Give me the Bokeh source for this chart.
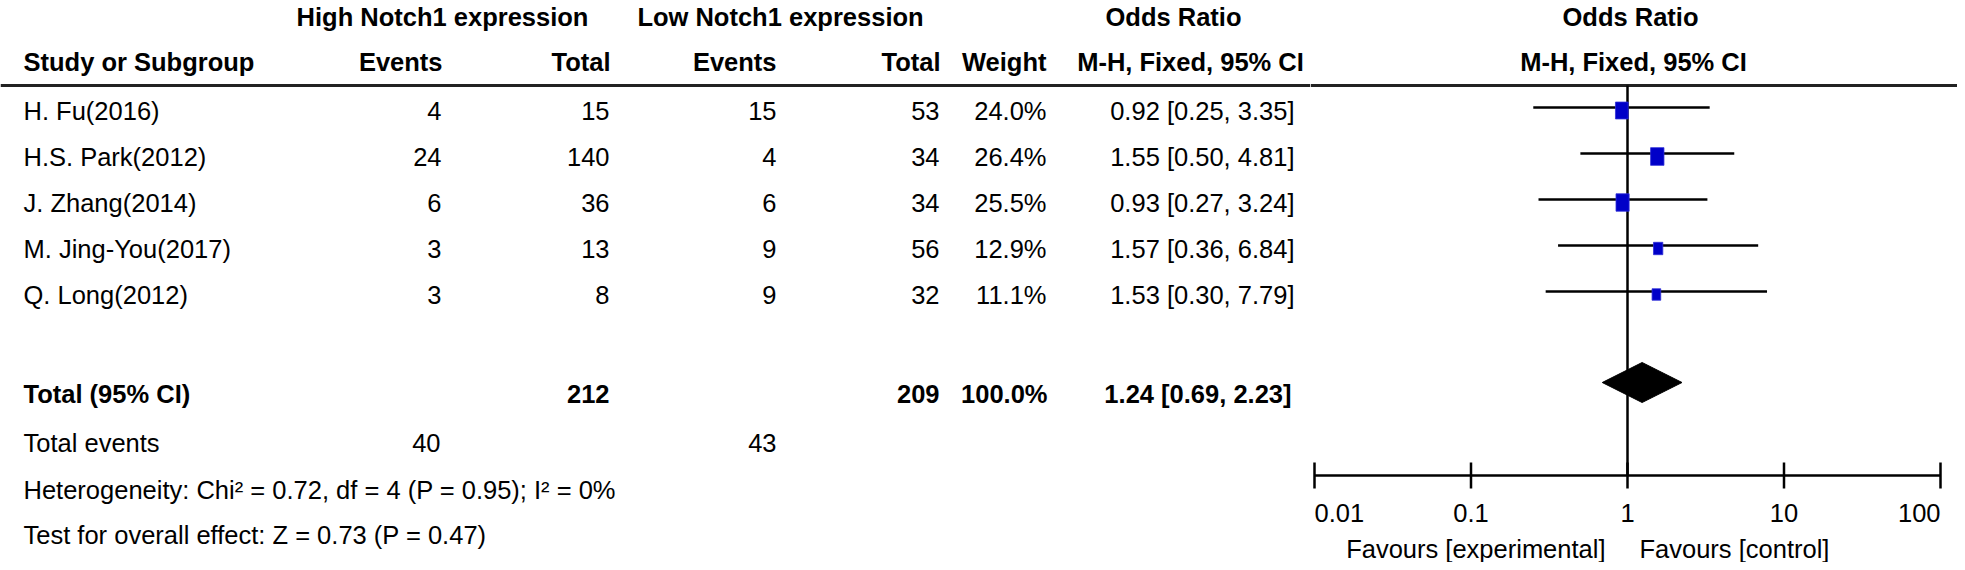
import math
from bokeh.plotting import figure
from bokeh.layouts import row
from bokeh.models import Range1d
from bokeh.core.properties import value
from bokeh.embed import file_html
from bokeh.resources import INLINE

# ---------------- data ----------------
studies = ["H. Fu(2016)", "H.S. Park(2012)", "J. Zhang(2014)", "M. Jing-You(2017)", "Q. Long(2012)"]
high_events = [4, 24, 6, 3, 3]
high_total = [15, 140, 36, 13, 8]
low_events = [15, 4, 6, 9, 9]
low_total = [53, 34, 34, 56, 32]
weights = [24.0, 26.4, 25.5, 12.9, 11.1]
odds_ratio = [0.92, 1.55, 0.93, 1.57, 1.53]
ci_low = [0.25, 0.50, 0.27, 0.36, 0.30]
ci_high = [3.35, 4.81, 3.24, 6.84, 7.79]

total_label = "Total (95% CI)"
total_high = 212
total_low = 209
total_weight = 100.0
total_or = 1.24
total_lo = 0.69
total_hi = 2.23
events_label = "Total events"
events_high = 40
events_low = 43
heterogeneity = "Heterogeneity: Chi\u00b2 = 0.72, df = 4 (P = 0.95); I\u00b2 = 0%"
overall = "Test for overall effect: Z = 0.73 (P = 0.47)"

axis_ticks = [0.01, 0.1, 1, 10, 100]
axis_tick_labels = ["0.01", "0.1", "1", "10", "100"]
favours_left = "Favours [experimental]"
favours_right = "Favours [control]"

group_headers = ["High Notch1 expression", "Low Notch1 expression"]
col_headers = ["Events", "Total", "Events", "Total", "Weight"]
or_header1 = "Odds Ratio"
or_header2 = "M-H, Fixed, 95% CI"
study_header = "Study or Subgroup"

# ---------------- layout / style ----------------
FONT = "Liberation Sans"
FS = "25.5px"
ROW_Y = [110, 156, 202, 248, 294]
TOTAL_Y = 393
EVENTS_Y = 442
HET_Y = 489
TEST_Y = 534
H1_Y = 16
H2_Y = 61
LINE_Y = 85
AXIS_Y = 475

X_LABEL = 23
X_HE = 441
X_HT = 609
X_LE = 776
X_LT = 939
X_W = 1046
X_OR = 1294

W1 = 1310
W2 = 647
H = 562


def txt(p, x, y, texts, align="left", bold=False, **kw):
    p.text(x=x, y=y, text=texts, text_align=align, text_baseline="middle",
           text_font=value(FONT), text_font_size=FS,
           text_font_style="bold" if bold else "normal", text_color="black", **kw)


def bare(p):
    p.grid.visible = False
    p.outline_line_color = None
    p.background_fill_color = "white"
    p.border_fill_color = "white"
    p.min_border = 0


# ---------------- table figure ----------------
p1 = figure(width=W1, height=H, x_range=Range1d(0, W1), y_range=Range1d(H, 0),
            output_backend="svg", toolbar_location=None,
            x_axis_location=None, y_axis_location=None)
bare(p1)

n = len(studies)
txt(p1, [442, 780], [H1_Y, H1_Y], group_headers, "center", bold=True)
txt(p1, [1173], [H1_Y], [or_header1], "center", bold=True)
txt(p1, [X_LABEL], [H2_Y], [study_header], "left", bold=True)
txt(p1, [X_HE + 1, X_HT + 1, X_LE, X_LT + 1, X_W], [H2_Y] * 5, col_headers, "right", bold=True)
txt(p1, [1190], [H2_Y], [or_header2], "center", bold=True)
p1.segment(x0=[0], y0=[LINE_Y], x1=[W1], y1=[LINE_Y], line_width=3, line_color="#222222")

txt(p1, [X_LABEL] * n, ROW_Y, studies, "left")
txt(p1, [X_HE] * n, ROW_Y, [str(v) for v in high_events], "right")
txt(p1, [X_HT] * n, ROW_Y, [str(v) for v in high_total], "right")
txt(p1, [X_LE] * n, ROW_Y, [str(v) for v in low_events], "right")
txt(p1, [X_LT] * n, ROW_Y, [str(v) for v in low_total], "right")
txt(p1, [X_W] * n, ROW_Y, [f"{w:.1f}%" for w in weights], "right")
txt(p1, [X_OR] * n, ROW_Y,
    [f"{o:.2f} [{l:.2f}, {h:.2f}]" for o, l, h in zip(odds_ratio, ci_low, ci_high)], "right")

txt(p1, [X_LABEL], [TOTAL_Y], [total_label], "left", bold=True)
txt(p1, [X_HT, X_LT, X_W + 1], [TOTAL_Y] * 3,
    [str(total_high), str(total_low), f"{total_weight:.1f}%"], "right", bold=True)
txt(p1, [X_OR - 3], [TOTAL_Y], [f"{total_or:.2f} [{total_lo:.2f}, {total_hi:.2f}]"], "right", bold=True)

txt(p1, [X_LABEL], [EVENTS_Y], [events_label], "left")
txt(p1, [X_HE - 1, X_LE], [EVENTS_Y] * 2, [str(events_high), str(events_low)], "right")
txt(p1, [X_LABEL], [HET_Y], [heterogeneity], "left")
txt(p1, [X_LABEL], [TEST_Y], [overall], "left")

# ---------------- forest figure ----------------
PX_PER_DECADE = 156.5
L0 = -(1627 - W1) / PX_PER_DECADE
L1 = L0 + W2 / PX_PER_DECADE
p2 = figure(width=W2, height=H, x_axis_type="log",
            x_range=Range1d(10 ** L0, 10 ** L1), y_range=Range1d(H, 0),
            output_backend="svg", toolbar_location=None,
            x_axis_location=None, y_axis_location=None)
bare(p2)

xr0, xr1 = 10 ** L0, 10 ** L1
p2.segment(x0=[xr0], y0=[LINE_Y], x1=[xr1], y1=[LINE_Y], line_width=3, line_color="#222222")
txt(p2, [1], [H1_Y], [or_header1], "center", bold=True, x_offset=3)
txt(p2, [1], [H2_Y], [or_header2], "center", bold=True, x_offset=6)

# line of no effect
p2.segment(x0=[1], y0=[LINE_Y], x1=[1], y1=[AXIS_Y], line_width=2.5, line_color="black")

# confidence intervals
ci_y = [y - 3 for y in ROW_Y]
p2.segment(x0=ci_low, y0=ci_y, x1=ci_high, y1=ci_y, line_width=2.5, line_color="black")
# weight boxes (area proportional to weight)
p2.rect(x=odds_ratio, y=ROW_Y,
        width=[2.6 * math.sqrt(w) for w in weights],
        height=[3.45 * math.sqrt(w) for w in weights],
        width_units="screen", height_units="screen",
        fill_color="#0000C8", line_color="#3030D8", line_width=0.8)

# pooled diamond
DY = 382
p2.patch(x=[total_lo, total_or, total_hi, total_or], y=[DY, DY - 20, DY, DY + 20],
         fill_color="black", line_color="black", line_width=1)

# axis
p2.segment(x0=[axis_ticks[0]], y0=[AXIS_Y], x1=[axis_ticks[-1]], y1=[AXIS_Y],
           line_width=2.5, line_color="black")
p2.segment(x0=axis_ticks, y0=[AXIS_Y - 13] * len(axis_ticks), x1=axis_ticks,
           y1=[AXIS_Y + 13] * len(axis_ticks), line_width=2.5, line_color="black")
txt(p2, [axis_ticks[0]], [512], [axis_tick_labels[0]], "left")
txt(p2, axis_ticks[1:-1], [512] * 3, axis_tick_labels[1:-1], "center")
txt(p2, [axis_ticks[-1]], [512], [axis_tick_labels[-1]], "right")

txt(p2, [1], [548], [favours_left], "right", x_offset=-22)
txt(p2, [1], [548], [favours_right], "left", x_offset=12)

layout = row(p1, p2)
open("out.html", "w").write(file_html(layout, INLINE))
